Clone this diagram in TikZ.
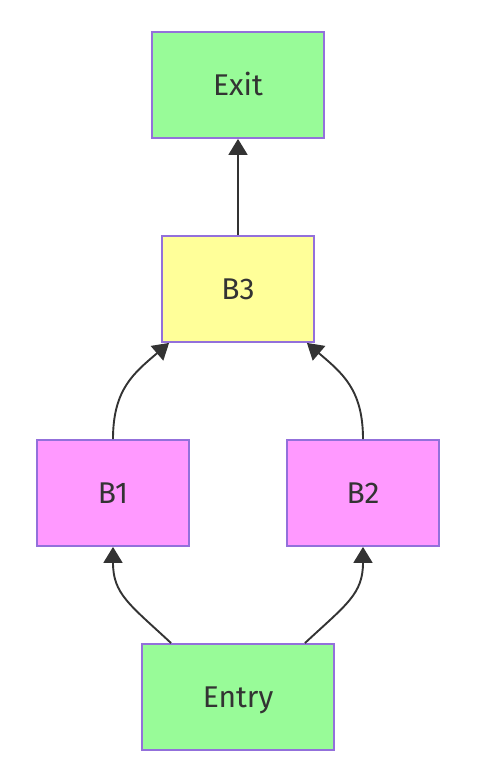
\documentclass[tikz,border=0pt]{standalone}
\usepackage{fontspec}
\setmainfont{Fira Sans}
\usetikzlibrary{arrows.meta}
\definecolor{nodeborder}{HTML}{9370DB}
\definecolor{greenfill}{HTML}{98FB98}
\definecolor{yellowfill}{HTML}{FFFF99}
\definecolor{pinkfill}{HTML}{FF99FF}
\definecolor{ink}{HTML}{333333}
\tikzset{
  block/.style={draw=nodeborder, line width=1.8pt, minimum height=106pt,
    inner sep=0pt, text height=20.5pt, text depth=0pt, text=ink,
    font=\fontsize{30}{34}\selectfont},
  flow/.style={draw=ink, line width=1.9pt,
    -{Triangle[width=19pt,length=16pt]}},
}
\begin{document}
\begin{tikzpicture}[x=1pt, y=-1pt]
  \useasboundingbox (0,0) rectangle (477,772);
  \node[block, fill=greenfill, minimum width=172pt] (exit) at (238,85) {Exit};
  \node[block, fill=yellowfill, minimum width=152pt] (b3) at (238,289) {B3};
  \node[block, fill=pinkfill, minimum width=152pt] (b1) at (113,493) {B1};
  \node[block, fill=pinkfill, minimum width=152pt] (b2) at (363,493) {B2};
  \node[block, fill=greenfill, minimum width=192pt] (entry) at (238,697) {Entry};

  \draw[flow] (b3.north) -- (exit.south);
  \draw[flow] (b1.north) .. controls +(0,-50) and +(-35,30) .. ([xshift=8pt]b3.south west);
  \draw[flow] (b2.north) .. controls +(0,-50) and +(35,30) .. ([xshift=-8pt]b3.south east);
  \draw[flow] ([xshift=30pt]entry.north west) .. controls +(-42,-39) and +(0,47) .. (b1.south);
  \draw[flow] ([xshift=-30pt]entry.north east) .. controls +(42,-39) and +(0,47) .. (b2.south);
\end{tikzpicture}
\end{document}
